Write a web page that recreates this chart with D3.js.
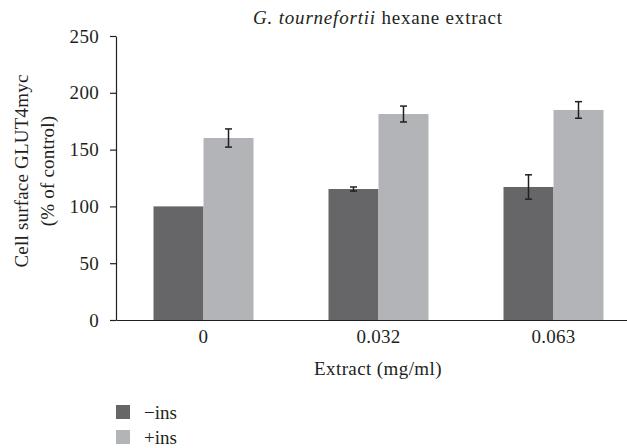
<!DOCTYPE html>
<html>
<head>
<meta charset="utf-8">
<script src="https://cdn.jsdelivr.net/npm/d3@7"></script>
<style>
  body { margin: 0; background: #fff; }
  svg { display: block; font-family: "Liberation Serif", "Times New Roman", serif; }
</style>
</head>
<body>
<div id="chart"></div>
<script>
(function () {
    var categories = ['0', '0.032', '0.063'];
    var seriesNames = ['\u2212ins', '+ins'];
    var minusIns = [100, 115.3, 117.1];
    var minusInsErr = [0, 1.8, 10.7];
    var plusIns = [160.2, 181.3, 184.9];
    var plusInsErr = [8, 7, 7.3];
    var yTicks = [0, 50, 100, 150, 200, 250];

    var colors = ['#666668', '#b3b4b7'];
    var ink = '#231f20';
    var w = 627, h = 448;
    var left = 116, top = 36, bottom = 320;

    var svg = d3.select('#chart')
        .append('svg')
            .attr('width', w)
            .attr('height', h);

    var y = d3.scaleLinear().domain([0, 250]).range([bottom, top]);
    var x = d3.scaleBand()
        .domain(categories)
        .range([left, left + 525])
        .paddingInner(3 / 7)
        .paddingOuter(1.5 / 7);
    var xSub = d3.scaleBand()
        .domain([0, 1])
        .range([0, x.bandwidth()]);

    var rows = categories.map(function (c, i) {
        return [
            { cat: c, s: 0, v: minusIns[i], e: minusInsErr[i] },
            { cat: c, s: 1, v: plusIns[i], e: plusInsErr[i] }
        ];
    });

    // bars
    var groups = svg.selectAll('g.grp')
        .data(rows)
        .enter()
        .append('g')
            .attr('class', 'grp')
            .attr('transform', function (d, i) { return 'translate(' + x(categories[i]) + ',0)'; });

    groups.selectAll('rect')
        .data(function (d) { return d; })
        .enter()
        .append('rect')
            .attr('x', function (d) { return xSub(d.s); })
            .attr('y', function (d) { return y(d.v); })
            .attr('width', xSub.bandwidth())
            .attr('height', function (d) { return y(0) - y(d.v); })
            .style('fill', function (d) { return colors[d.s]; });

    // error bars
    var errs = groups.selectAll('g.err')
        .data(function (d) { return d.filter(function (r) { return r.e > 0; }); })
        .enter()
        .append('g')
            .attr('class', 'err')
            .attr('transform', function (d) { return 'translate(' + (xSub(d.s) + xSub.bandwidth() / 2) + ',0)'; })
            .style('stroke', ink)
            .style('stroke-width', 1.5);
    errs.append('line')
        .attr('y1', function (d) { return y(d.v - d.e); })
        .attr('y2', function (d) { return y(d.v + d.e); });
    errs.append('line')
        .attr('x1', -3.5).attr('x2', 3.5)
        .attr('y1', function (d) { return y(d.v + d.e); })
        .attr('y2', function (d) { return y(d.v + d.e); });
    errs.append('line')
        .attr('x1', -3.5).attr('x2', 3.5)
        .attr('y1', function (d) { return y(d.v - d.e); })
        .attr('y2', function (d) { return y(d.v - d.e); });

    // axes
    var yAxis = svg.append('g')
        .attr('transform', 'translate(' + left + ',0)')
        .call(d3.axisLeft(y).tickValues(yTicks).tickSize(6).tickPadding(11).tickSizeOuter(0));
    var xAxis = svg.append('g')
        .attr('transform', 'translate(0,' + bottom + ')')
        .call(d3.axisBottom(x).tickSize(0).tickPadding(10).tickSizeOuter(0));

    [yAxis, xAxis].forEach(function (a) {
        a.selectAll('path, line').style('stroke', ink).style('stroke-width', 1.2);
        a.selectAll('text')
            .style('font-family', '"Liberation Serif", serif')
            .style('font-size', '19px')
            .style('letter-spacing', '0.3px')
            .style('fill', ink);
    });

    // title
    var title = svg.append('text')
        .attr('x', 378)
        .attr('y', 24)
        .attr('text-anchor', 'middle')
        .style('font-size', '19px')
        .style('letter-spacing', '0.8px')
        .style('fill', ink);
    title.append('tspan').style('font-style', 'italic').text('G. tournefortii');
    title.append('tspan').text(' hexane extract');

    // axis titles
    svg.append('text')
        .attr('x', 378)
        .attr('y', 375)
        .attr('text-anchor', 'middle')
        .style('font-size', '19px')
        .style('letter-spacing', '0.4px')
        .style('fill', ink)
        .text('Extract (mg/ml)');

    var yTitle = svg.append('text')
        .attr('transform', 'translate(28,171) rotate(-90)')
        .attr('text-anchor', 'middle')
        .style('font-size', '19px')
        .style('letter-spacing', '0.2px')
        .style('fill', ink);
    yTitle.append('tspan').attr('x', 0).attr('y', 0).text('Cell surface GLUT4myc');
    yTitle.append('tspan').attr('x', 0).attr('y', 26).text('(% of control)');

    // legend
    var legend = svg.selectAll('g.leg')
        .data(seriesNames)
        .enter()
        .append('g')
            .attr('class', 'leg')
            .attr('transform', function (d, i) { return 'translate(116,' + (405 + i * 25) + ')'; });
    legend.append('rect')
        .attr('width', 14)
        .attr('height', 14)
        .style('fill', function (d, i) { return colors[i]; });
    legend.append('text')
        .attr('x', 28)
        .attr('y', 14)
        .style('font-size', '19px')
        .style('fill', ink)
        .text(function (d) { return d; });
})();
</script>
</body>
</html>
